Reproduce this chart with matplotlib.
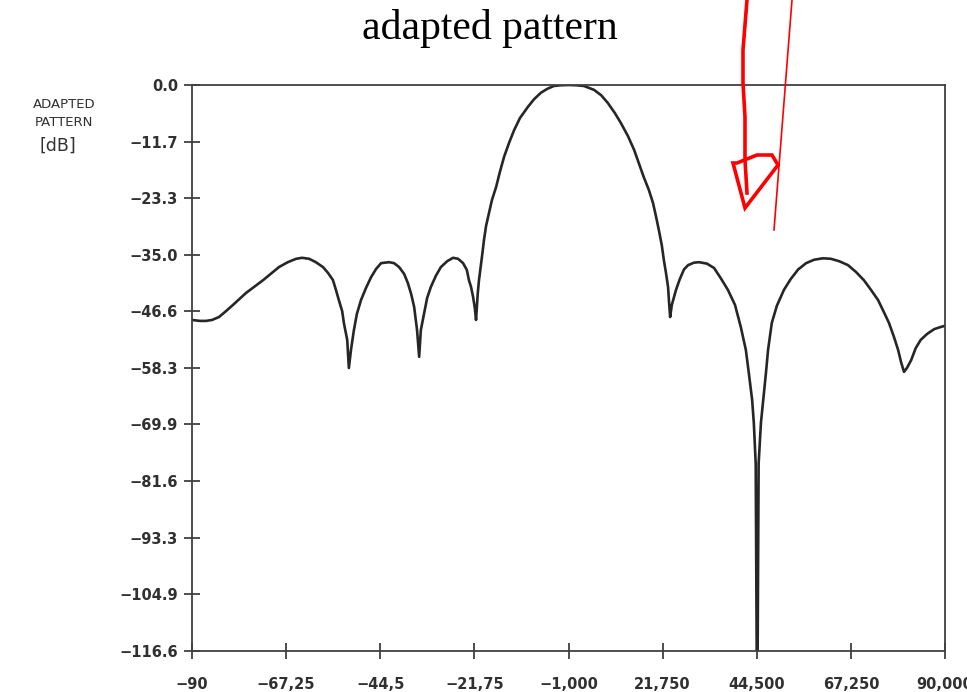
import matplotlib
matplotlib.use("Agg")
import matplotlib.pyplot as plt
from matplotlib.lines import Line2D
from matplotlib.patches import Polygon

# ---- data ----
angle_deg = [-90.0, -88.1, -86.65, -85.2, -83.55, -81.9, -80.2, -77.1, -73.0, -69.2,
             -67.1, -65.1, -63.7, -62.0, -60.4, -58.7, -57.5, -56.3, -55.6, -54.9,
             -54.1, -53.7, -52.9, -52.5, -52.0, -51.3, -50.6, -49.6, -48.4, -47.2,
             -46.0, -44.8, -42.9, -41.7, -40.5, -39.3, -38.4, -37.6, -36.9, -36.2,
             -35.7, -35.3, -34.5, -33.8, -32.9, -31.7, -30.5, -29.0, -27.6, -26.4,
             -25.2, -24.3, -23.8, -23.3, -22.8, -22.4, -22.1, -21.7, -21.4, -21.0,
             -20.6, -20.2, -19.7, -19.0, -18.3, -17.3, -16.4, -15.4, -14.2, -13.0,
             -11.6, -9.7, -8.2, -6.6, -5.1, -3.5, -1.8, 0.1, 1.8, 3.7,
             6.1, 7.8, 9.4, 11.1, 12.5, 14.2, 15.7, 16.8, 18.0, 19.2,
             20.2, 20.9, 21.6, 22.3, 22.8, 23.3, 23.8, 24.0, 24.3, 24.7,
             25.7, 26.6, 27.6, 28.6, 30.0, 31.2, 33.1, 34.8, 36.4, 38.1, 39.8,
             41.2, 42.4, 43.1, 43.9, 44.3, 44.75, 45.1, 45.45, 46.0, 47.2,
             47.7, 48.6, 49.8, 51.5, 53.1, 54.9, 56.8, 58.7, 60.8, 62.7,
             64.7, 66.8, 68.7, 70.6, 72.3, 74.0, 75.4, 76.6, 77.8, 78.8,
             79.5, 80.2, 80.9, 81.9, 83.0, 84.2, 85.7, 87.4, 88.8, 90.0]
pattern_db = [-48.4, -48.6, -48.6, -48.4, -47.8, -46.6, -45.3, -42.85, -40.2, -37.5,
              -36.5, -35.8, -35.6, -35.8, -36.5, -37.5, -38.7, -40.2, -42.2, -44.3,
              -46.6, -49.0, -52.5, -58.3, -54.6, -50.5, -47.2, -44.3, -41.8, -39.6,
              -37.9, -36.7, -36.5, -36.7, -37.5, -38.9, -40.8, -43.1, -45.7, -50.5,
              -56.0, -50.5, -47.0, -43.9, -41.6, -39.3, -37.5, -36.3, -35.6, -35.8,
              -36.7, -38.1, -40.2, -41.6, -43.7, -45.9, -48.4, -43.0, -40.2, -37.5,
              -34.8, -31.9, -29.0, -26.4, -23.7, -21.0, -17.9, -14.8, -11.9, -9.3,
              -6.8, -4.5, -2.9, -1.6, -0.8, -0.2, -0.05, 0.0, -0.05, -0.2,
              -1.0, -2.1, -3.7, -5.8, -7.8, -10.5, -13.4, -16.1, -19.0, -21.6,
              -24.3, -27.0, -29.9, -33.0, -36.1, -38.7, -41.6, -44.3, -47.8, -45.3,
              -42.2, -40.0, -38.0, -37.1, -36.6, -36.5, -36.8, -37.7, -39.8, -42.2, -45.3,
              -49.9, -54.6, -59.3, -64.9, -69.6, -78.0, -135.0, -78.0, -69.6, -59.3,
              -54.6, -49.0, -45.5, -42.2, -40.0, -38.0, -36.7, -36.0, -35.7, -35.8,
              -36.3, -37.1, -38.5, -40.2, -42.2, -44.3, -46.8, -49.0, -51.9, -54.6,
              -57.1, -59.1, -58.3, -56.7, -54.2, -52.5, -51.3, -50.3, -49.9, -49.6]

xtick_pos = [-90, -67.5, -45, -22.5, 0, 22.5, 45, 67.5, 90]
xtick_labels = ["\u221290", "\u221267,25", "\u221244,5", "\u221221,75", "\u22121,000",
                "21,750", "44,500", "67,250", "90,000"]
ytick_vals = [0.0, -11.7, -23.3, -35.0, -46.6, -58.3, -69.9, -81.6, -93.3, -104.9, -116.6]

W, H = 967, 692
fig = plt.figure(figsize=(W / 100, H / 100), dpi=100)
ax = fig.add_axes([192 / W, 1 - 651 / H, (945 - 192) / W, (651 - 85) / H])

ax.plot(angle_deg, pattern_db, color="#262626", lw=1.9, solid_joinstyle="round",
        solid_capstyle="round", clip_on=True)
ax.set_xlim(-90, 90)
ax.set_ylim(-116.6, 0.0)

ax.set_xticks(xtick_pos)
ax.set_xticklabels(xtick_labels)
ax.set_yticks(ytick_vals)
ax.set_yticklabels([("\u2212" + f"{abs(v):.1f}") if v < 0 else f"{v:.1f}" for v in ytick_vals])

for lab in ax.get_xticklabels() + ax.get_yticklabels():
    lab.set_fontfamily("DejaVu Sans")
    lab.set_fontweight("bold")
    lab.set_fontsize(10.5)
    lab.set_color("#303030")

ax.tick_params(axis="both", direction="inout", length=12, width=1.2, color="#303030")
ax.tick_params(axis="y", pad=4)
ax.tick_params(axis="x", pad=13)
for s in ax.spines.values():
    s.set_linewidth(1.3)
    s.set_color("#404040")

# title
fig.text(490 / W, 1 - 29 / H, "adapted pattern", ha="center", va="center",
         family="Liberation Serif", fontsize=30, color="black")

# y label
fig.text(64 / W, 1 - 104 / H, "ADAPTED", ha="center", va="center",
         family="DejaVu Sans", fontsize=9.5, color="#303030")
fig.text(64 / W, 1 - 122 / H, "PATTERN", ha="center", va="center",
         family="DejaVu Sans", fontsize=9.5, color="#303030")
fig.text(58 / W, 1 - 146 / H, "[dB]", ha="center", va="center",
         family="DejaVu Sans", fontsize=12.5, color="#303030")

# red hand-drawn annotation
def P(x, y):
    return (x / W, 1 - y / H)

thin = [P(792, 0), P(774, 230)]
fig.add_artist(Line2D([p[0] for p in thin], [p[1] for p in thin], color="red", lw=1.2))
thick = [P(747, 0), P(743, 50), P(743, 83), P(745, 117), P(745, 160), P(747, 193)]
fig.add_artist(Line2D([p[0] for p in thick], [p[1] for p in thick], color="red", lw=2.6))
head = [P(733, 163), P(745, 208), P(778, 165), P(772, 155), P(757, 155), P(737, 163)]
fig.add_artist(Polygon(head, closed=True, fill=False, edgecolor="red", lw=2.6,
                       transform=fig.transFigure))

fig.savefig("out.png", dpi=100)
